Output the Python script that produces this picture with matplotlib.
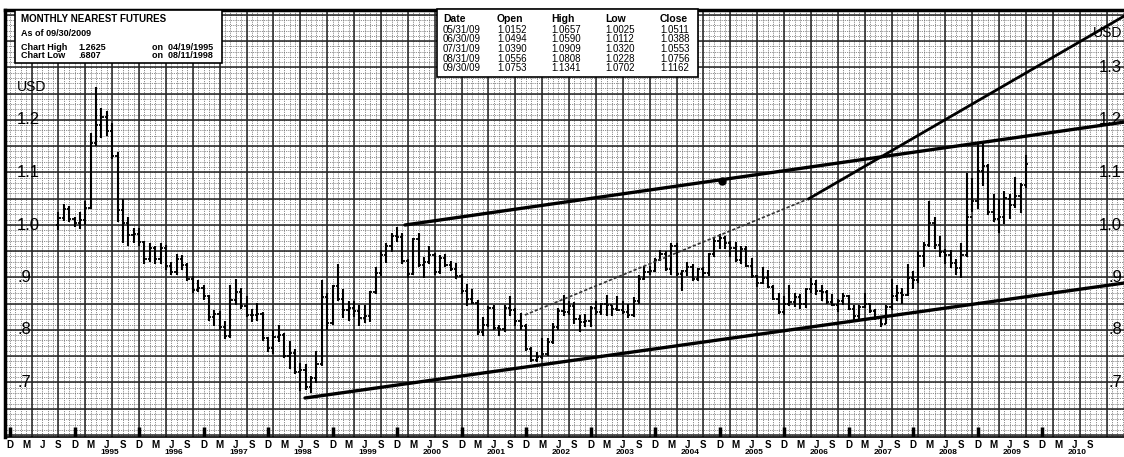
import numpy as np
import pandas as pd
import matplotlib
matplotlib.use("Agg")
import matplotlib.pyplot as plt
from matplotlib.patches import Rectangle

plt.rcParams['font.family'] = ['Liberation Sans', 'DejaVu Sans']

# --- Monthly nearest yen futures, Sep 1994 .. Sep 2009 ---
first_month = '1994-09'

opens = [1.000, 1.014, 1.031, 1.012,
         1.003, 1.010, 1.032, 1.156, 1.190, 1.205, 1.179, 1.131, 1.028, 1.003, 0.981, 0.983,
         0.967, 0.935, 0.956, 0.935, 0.957, 0.921, 0.911, 0.936, 0.923, 0.897, 0.877, 0.880,
         0.864, 0.825, 0.831, 0.806, 0.788, 0.858, 0.873, 0.845, 0.829, 0.828, 0.831, 0.784,
         0.766, 0.787, 0.791, 0.750, 0.757, 0.720, 0.724, 0.692, 0.708, 0.736, 0.862, 0.814,
         0.884, 0.860, 0.839, 0.841, 0.837, 0.823, 0.826, 0.873, 0.909, 0.943, 0.960, 0.980,
         0.978, 0.932, 0.907, 0.974, 0.924, 0.929, 0.942, 0.911, 0.937, 0.923, 0.917, 0.903,
         0.874, 0.859, 0.852, 0.797, 0.809, 0.841, 0.803, 0.802, 0.842, 0.838, 0.817, 0.807,
         0.763, 0.742, 0.749, 0.754, 0.778, 0.806, 0.837, 0.835, 0.845, 0.821, 0.816, 0.817,
         0.842, 0.834, 0.849, 0.847, 0.840, 0.838, 0.835, 0.829, 0.855, 0.898, 0.910, 0.912,
         0.933, 0.944, 0.917, 0.960, 0.906, 0.913, 0.920, 0.898, 0.916, 0.909, 0.945, 0.970,
         0.975, 0.965, 0.956, 0.934, 0.954, 0.922, 0.902, 0.890, 0.900, 0.882, 0.859, 0.835,
         0.849, 0.853, 0.863, 0.849, 0.879, 0.887, 0.874, 0.873, 0.853, 0.847, 0.855, 0.864,
         0.840, 0.826, 0.844, 0.849, 0.837, 0.822, 0.812, 0.843, 0.864, 0.871, 0.867, 0.900,
         0.895, 0.941, 0.962, 1.003, 0.962, 0.948, 0.942, 0.927, 0.919, 0.943, 1.016, 1.046,
         1.103, 1.112, 1.025, 1.012, 1.0152, 1.0494, 1.0390, 1.0556, 1.0753]

highs = [1.024, 1.040, 1.036, 1.015,
         1.025, 1.045, 1.175, 1.2625, 1.222, 1.218, 1.195, 1.140, 1.050, 1.015, 0.995, 0.995,
         0.970, 0.965, 0.960, 0.965, 0.962, 0.930, 0.945, 0.943, 0.927, 0.903, 0.896, 0.886,
         0.866, 0.838, 0.836, 0.817, 0.885, 0.897, 0.880, 0.865, 0.840, 0.852, 0.835, 0.787,
         0.800, 0.810, 0.795, 0.780, 0.764, 0.738, 0.736, 0.712, 0.760, 0.896, 0.870, 0.885,
         0.925, 0.879, 0.856, 0.855, 0.848, 0.847, 0.874, 0.920, 0.952, 0.966, 0.985, 0.997,
         0.985, 0.935, 0.975, 0.985, 0.940, 0.960, 0.947, 0.942, 0.945, 0.932, 0.928, 0.906,
         0.888, 0.878, 0.858, 0.825, 0.845, 0.848, 0.810, 0.848, 0.864, 0.842, 0.832, 0.812,
         0.768, 0.758, 0.785, 0.785, 0.813, 0.842, 0.867, 0.855, 0.853, 0.828, 0.830, 0.845,
         0.856, 0.851, 0.866, 0.848, 0.864, 0.856, 0.850, 0.863, 0.905, 0.922, 0.922, 0.938,
         0.953, 0.950, 0.965, 0.966, 0.915, 0.930, 0.926, 0.918, 0.920, 0.947, 0.975, 0.982,
         0.980, 0.970, 0.968, 0.960, 0.960, 0.937, 0.904, 0.920, 0.915, 0.885, 0.870, 0.865,
         0.885, 0.870, 0.869, 0.880, 0.900, 0.895, 0.886, 0.877, 0.869, 0.860, 0.870, 0.866,
         0.848, 0.848, 0.870, 0.851, 0.840, 0.826, 0.847, 0.898, 0.885, 0.880, 0.925, 0.913,
         0.950, 0.967, 1.045, 1.016, 0.980, 0.955, 0.953, 0.935, 0.965, 1.100, 1.090, 1.155,
         1.158, 1.117, 1.060, 1.050, 1.0657, 1.0590, 1.0909, 1.0808, 1.1341]

lows = [0.990, 1.008, 1.006, 0.996,
        0.993, 1.000, 1.030, 1.150, 1.165, 1.170, 1.125, 1.005, 0.965, 0.960, 0.965, 0.960,
        0.925, 0.930, 0.925, 0.925, 0.915, 0.905, 0.905, 0.915, 0.893, 0.870, 0.873, 0.857,
        0.818, 0.808, 0.800, 0.782, 0.785, 0.848, 0.840, 0.825, 0.815, 0.818, 0.780, 0.758,
        0.754, 0.778, 0.746, 0.725, 0.717, 0.684, 0.685, 0.6807, 0.700, 0.732, 0.800, 0.810,
        0.855, 0.823, 0.818, 0.825, 0.807, 0.814, 0.816, 0.868, 0.902, 0.927, 0.948, 0.967,
        0.925, 0.900, 0.905, 0.920, 0.900, 0.925, 0.905, 0.906, 0.920, 0.912, 0.898, 0.868,
        0.845, 0.850, 0.790, 0.788, 0.806, 0.800, 0.788, 0.797, 0.826, 0.807, 0.800, 0.760,
        0.740, 0.740, 0.744, 0.750, 0.774, 0.800, 0.826, 0.828, 0.812, 0.797, 0.806, 0.806,
        0.829, 0.829, 0.827, 0.826, 0.837, 0.831, 0.822, 0.825, 0.850, 0.895, 0.905, 0.910,
        0.931, 0.912, 0.905, 0.902, 0.875, 0.903, 0.894, 0.893, 0.900, 0.902, 0.940, 0.955,
        0.955, 0.940, 0.930, 0.925, 0.920, 0.900, 0.881, 0.888, 0.880, 0.857, 0.830, 0.829,
        0.845, 0.843, 0.840, 0.842, 0.871, 0.866, 0.856, 0.850, 0.845, 0.835, 0.848, 0.838,
        0.819, 0.818, 0.842, 0.832, 0.820, 0.806, 0.811, 0.838, 0.855, 0.849, 0.865, 0.879,
        0.890, 0.920, 0.958, 0.955, 0.940, 0.925, 0.918, 0.904, 0.900, 0.940, 1.025, 1.030,
        1.075, 1.020, 1.005, 0.985, 1.0025, 1.0112, 1.0320, 1.0228, 1.0702]

closes = [1.014, 1.031, 1.012, 1.003,
          1.010, 1.032, 1.156, 1.190, 1.205, 1.179, 1.131, 1.028, 1.003, 0.981, 0.983, 0.967,
          0.935, 0.956, 0.935, 0.957, 0.921, 0.911, 0.936, 0.923, 0.897, 0.877, 0.880, 0.864,
          0.825, 0.831, 0.806, 0.788, 0.858, 0.873, 0.845, 0.829, 0.828, 0.831, 0.784, 0.766,
          0.787, 0.791, 0.750, 0.757, 0.720, 0.724, 0.692, 0.708, 0.736, 0.862, 0.814, 0.884,
          0.860, 0.839, 0.841, 0.837, 0.823, 0.826, 0.873, 0.909, 0.943, 0.960, 0.980, 0.978,
          0.932, 0.907, 0.974, 0.924, 0.929, 0.942, 0.911, 0.937, 0.923, 0.917, 0.903, 0.874,
          0.859, 0.852, 0.797, 0.809, 0.841, 0.803, 0.802, 0.842, 0.838, 0.817, 0.807, 0.763,
          0.742, 0.749, 0.754, 0.778, 0.806, 0.837, 0.835, 0.845, 0.821, 0.816, 0.817, 0.842,
          0.834, 0.849, 0.847, 0.840, 0.838, 0.835, 0.829, 0.855, 0.898, 0.910, 0.912, 0.933,
          0.944, 0.917, 0.960, 0.906, 0.913, 0.920, 0.898, 0.916, 0.909, 0.945, 0.970, 0.975,
          0.965, 0.956, 0.934, 0.954, 0.922, 0.902, 0.890, 0.900, 0.882, 0.859, 0.835, 0.849,
          0.853, 0.863, 0.849, 0.879, 0.887, 0.874, 0.873, 0.853, 0.847, 0.855, 0.864, 0.840,
          0.826, 0.844, 0.849, 0.837, 0.822, 0.812, 0.843, 0.864, 0.871, 0.867, 0.900, 0.895,
          0.941, 0.962, 1.003, 0.962, 0.948, 0.942, 0.927, 0.919, 0.943, 1.016, 1.046, 1.103,
          1.112, 1.025, 1.012, 1.0152, 1.0511, 1.0388, 1.0553, 1.0756, 1.1162]

# hand drawn trend lines (decimal years, price)
support_x = [1998.49, 2011.19]
support_y = [0.6705, 0.8895]
resist_x = [2000.04, 2011.19]
resist_y = [1.000, 1.196]
steep_x = [2001.90, 2006.30, 2011.19]
steep_y = [0.8286, 1.050, 1.398]
dot_x, dot_y = 2004.96, 1.084

# text panels
table_cols = ['Date', 'Open', 'High', 'Low', 'Close']
table_rows = [['05/31/09', '1.0152', '1.0657', '1.0025', '1.0511'],
              ['06/30/09', '1.0494', '1.0590', '1.0112', '1.0388'],
              ['07/31/09', '1.0390', '1.0909', '1.0320', '1.0553'],
              ['08/31/09', '1.0556', '1.0808', '1.0228', '1.0756'],
              ['09/30/09', '1.0753', '1.1341', '1.0702', '1.1162']]
y_labels = ['1.2', '1.1', '1.0', '.9', '.8', '.7']
y_label_vals = [1.2, 1.1, 1.0, 0.9, 0.8, 0.7]
quarter_letters = {3: 'M', 6: 'J', 9: 'S', 12: 'D'}
years = list(range(1995, 2011))

# --- x positions in decimal years ---
months = pd.period_range(first_month, periods=len(closes), freq='M')
xs = months.year + (months.month - 1) / 12.0
w = 0.4 / 12

W, H = 1124, 457
fig = plt.figure(figsize=(W / 100, H / 100), dpi=100)
x0 = 1993 + 11 / 12  # Dec 1993
ppy = 64.5           # pixels per year
ax = fig.add_axes([5 / W, 20 / H, 1119 / W, 427 / H])
ax.set_xlim(x0 - 5 / ppy, x0 + 1114 / ppy)
ax.set_ylim(1 - 212 / 525, 1 + 215 / 525)

# graph-paper grid
gx_minor = x0 + np.arange(-1, 210) / 12
gx_major = x0 + np.arange(-1, 210, 5) / 12
gy_minor = np.arange(0.59, 1.42, 0.01)
gy_major = np.arange(0.60, 1.42, 0.05)
ax.vlines(gx_minor, 0, 1, transform=ax.get_xaxis_transform(), color='#666666',
          lw=0.6, linestyle=(0, (1, 1.2)), zorder=0)
ax.hlines(gy_minor, 0, 1, transform=ax.get_yaxis_transform(), color='#666666',
          lw=0.6, linestyle=(0, (1, 1.2)), zorder=0)
ax.vlines(gx_major, 0, 1, transform=ax.get_xaxis_transform(), color='#222222', lw=1.1, zorder=1)
ax.hlines(gy_major, 0, 1, transform=ax.get_yaxis_transform(), color='#222222', lw=1.1, zorder=1)

# OHLC bars
ax.vlines(xs, lows, highs, color='black', lw=1.5, zorder=4)
ax.hlines(opens, xs - w, xs, color='black', lw=1.3, zorder=4)
ax.hlines(closes, xs, xs + w, color='black', lw=1.3, zorder=4)

# trend lines
ax.plot(support_x, support_y, color='black', lw=2.4, zorder=5, solid_capstyle='round')
ax.plot(resist_x, resist_y, color='black', lw=2.4, zorder=5, solid_capstyle='round')
ax.plot(steep_x[:2], steep_y[:2], color='#333333', lw=1.2, linestyle=(0, (2, 1.2)), zorder=5)
ax.plot(steep_x[1:], steep_y[1:], color='black', lw=2.0, zorder=5)
ax.plot([dot_x], [dot_y], 'o', color='black', ms=5, zorder=6)

# price labels inside the chart, both sides
x_right = x0 + 1112 / ppy
for lab, v in zip(y_labels, y_label_vals):
    ax.text(x0 + 7 / ppy, v, lab, fontsize=12, va='center', ha='left', zorder=7)
    ax.text(x_right, v, lab, fontsize=12, va='center', ha='right', zorder=7)
ax.text(x_right, 1.3, '1.3', fontsize=12, va='center', ha='right', zorder=7)
ax.text(x0 + 7 / ppy, 1.263, 'USD', fontsize=10, va='center', ha='left', zorder=7)
ax.text(x_right, 1.366, 'USD', fontsize=10, va='center', ha='right', zorder=7)

# x axis: quarter letters, December ticks, years
qx, ql = [], []
for yr in range(1993, 2011):
    for mo, letter in quarter_letters.items():
        if (yr == 1993 and mo < 12) or (yr == 2010 and mo > 9):
            continue
        qx.append(yr + (mo - 1) / 12)
        ql.append(letter)
ax.set_xticks(qx, labels=ql)
ax.tick_params(axis='x', length=0, pad=2, labelsize=7)
for t in ax.get_xticklabels():
    t.set_fontweight('bold')
ax.set_yticks([])
dec_x = np.arange(1993, 2010) + 11 / 12
ax.vlines(dec_x, 0, 10 / 427, transform=ax.get_xaxis_transform(), color='black', lw=2.5, zorder=6)
for yr in years:
    ax.text(yr + 0.46, -15 / 427, str(yr), transform=ax.get_xaxis_transform(),
            fontsize=6, fontweight='bold', ha='center', va='center')

for side in ['left', 'top', 'bottom', 'right']:
    ax.spines[side].set_color('black')
ax.spines['left'].set_linewidth(2.5)
ax.spines['top'].set_linewidth(2.5)
ax.spines['bottom'].set_linewidth(1.2)
ax.spines['right'].set_visible(False)


def fx(px):
    return px / W


def fy(py):
    return 1 - py / H


# info box, top left
fig.add_artist(Rectangle((fx(15), fy(63)), (222 - 15) / W, 53 / H, transform=fig.transFigure,
                         facecolor='white', edgecolor='black', lw=1.2, zorder=2))
fig.text(fx(21), fy(19), 'MONTHLY NEAREST FUTURES', fontsize=7, fontweight='bold', va='center', zorder=3)
fig.text(fx(21), fy(33), 'As of 09/30/2009', fontsize=6.5, fontweight='bold', va='center', zorder=3)
fig.text(fx(21), fy(47), 'Chart High', fontsize=6.5, fontweight='bold', va='center', zorder=3)
fig.text(fx(78), fy(47), '1.2625', fontsize=6.5, fontweight='bold', va='center', zorder=3)
fig.text(fx(152), fy(47), 'on  04/19/1995', fontsize=6.5, fontweight='bold', va='center', zorder=3)
fig.text(fx(21), fy(56), 'Chart Low', fontsize=6.5, fontweight='bold', va='center', zorder=3)
fig.text(fx(78), fy(56), '.6807', fontsize=6.5, fontweight='bold', va='center', zorder=3)
fig.text(fx(152), fy(56), 'on  08/11/1998', fontsize=6.5, fontweight='bold', va='center', zorder=3)

# last five months table
fig.add_artist(Rectangle((fx(437), fy(77)), (698 - 437) / W, 68 / H, transform=fig.transFigure,
                         facecolor='white', edgecolor='black', lw=1.2, zorder=2))
col_px = [443, 497, 551, 605, 660]
for cx, name in zip(col_px, table_cols):
    fig.text(fx(cx), fy(19), name, fontsize=7.5, fontweight='bold', va='center', zorder=3)
for r, row in enumerate(table_rows):
    for cx, val in zip(col_px, row):
        fig.text(fx(cx), fy(30 + 9.5 * r), val, fontsize=7, va='center', zorder=3)

fig.savefig('out.png', dpi=100, facecolor='white')
